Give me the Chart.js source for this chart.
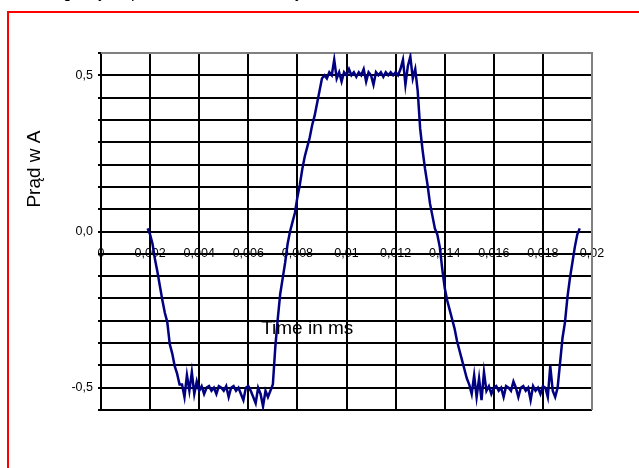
<!DOCTYPE html>
<html>
<head>
<meta charset="utf-8">
<script src="https://cdn.jsdelivr.net/npm/chart.js@4/dist/chart.umd.min.js"></script>
<style>
  html, body { margin:0; padding:0; width:639px; height:468px; overflow:hidden; background:#fff; }
  #wrap { position:relative; width:639px; height:468px; }
  #frame { position:absolute; left:7px; top:11px; width:700px; height:520px; border:2px solid #ff0000; pointer-events:none; }
  .cut { position:absolute; top:-15px; font:16px "Liberation Sans", Arial, sans-serif; line-height:16px; color:#000; }
</style>
</head>
<body>
<div id="wrap">
  <span class="cut" style="left:63px">g,</span>
  <span class="cut" style="left:99px">j</span>
  <span class="cut" style="left:131px">p</span>
  <span class="cut" style="left:295px">y</span>
  <canvas id="c" width="639" height="468"></canvas>
  <div id="frame"></div>
</div>
<script>
// oscilloscope samples: first sample time and sample interval (s)
const sampleStart = 0.0019;
const sampleStep = 0.0001;

// current in A, one value per sample
const fallA = [0.01, -0.01, -0.04, -0.09, -0.13, -0.175, -0.22, -0.26, -0.29, -0.36, -0.39, -0.43, -0.455, -0.49];
const lowA = [-0.49, -0.53, -0.46, -0.51, -0.45, -0.52, -0.48, -0.51, -0.495, -0.52, -0.50, -0.495, -0.51, -0.50,
  -0.52, -0.495, -0.50, -0.51, -0.495, -0.53, -0.50, -0.495, -0.51, -0.50, -0.52, -0.54, -0.50, -0.495, -0.51, -0.53,
  -0.55, -0.50, -0.52, -0.56, -0.51, -0.53, -0.51];
const riseA = [-0.49, -0.37, -0.28, -0.20, -0.15, -0.10, -0.04, 0.0, 0.03, 0.06, 0.11, 0.15, 0.20, 0.24, 0.27,
  0.30, 0.34, 0.37, 0.41, 0.45, 0.49];
const highA = [0.50, 0.49, 0.51, 0.50, 0.55, 0.49, 0.51, 0.48, 0.51, 0.50, 0.52, 0.50, 0.51, 0.495, 0.51, 0.50,
  0.52, 0.48, 0.51, 0.50, 0.47, 0.51, 0.50, 0.51, 0.495, 0.51, 0.50, 0.51, 0.50, 0.51, 0.50, 0.52, 0.55, 0.47,
  0.53, 0.56, 0.49, 0.52];
const fallB = [0.45, 0.33, 0.26, 0.20, 0.15, 0.09, 0.05, 0.01, -0.01, -0.05, -0.12, -0.18, -0.22, -0.25, -0.28,
  -0.31, -0.35, -0.38, -0.41, -0.44, -0.47, -0.49];
const lowB = [-0.52, -0.46, -0.53, -0.47, -0.54, -0.45, -0.51, -0.495, -0.52, -0.50, -0.495, -0.51, -0.50, -0.53,
  -0.495, -0.50, -0.51, -0.48, -0.50, -0.53, -0.50, -0.495, -0.51, -0.50, -0.54, -0.495, -0.51, -0.50, -0.52, -0.495,
  -0.50, -0.53, -0.43, -0.51, -0.53, -0.50];
const riseB = [-0.42, -0.34, -0.29, -0.21, -0.15, -0.10, -0.05, -0.01, 0.01];

// axis ticks
const xTickStep = 0.002;
const yGridLines = [-8, -7, -6, -5, -4, -3, -2, -1, 0, 1, 2, 3, 4, 5, 6, 7, 8].map(k => k / 14);
const yLabelValues = [-0.5, 0, 0.5];
const yLabelText = ['-0,5', '0,0', '0,5'];

const current = [...fallA, ...lowA, ...riseA, ...highA, ...fallB, ...lowB, ...riseB];
const points = current.map((v, k) => ({ x: sampleStart + k * sampleStep, y: v }));

const FONT = '"Liberation Sans", Arial, sans-serif';

const extras = {
  id: 'extras',
  beforeDatasetsDraw(chart){
    const { ctx, chartArea: a } = chart;
    ctx.save();
    ctx.strokeStyle = '#808080';
    ctx.lineWidth = 2;
    ctx.beginPath();
    ctx.moveTo(a.left, a.top); ctx.lineTo(a.right, a.top); ctx.lineTo(a.right, a.bottom);
    ctx.stroke();
    ctx.restore();
  },
  afterDraw(chart){
    const { ctx, scales: { x, y } } = chart;
    ctx.save();
    ctx.fillStyle = '#000';
    ctx.font = '19px ' + FONT;
    ctx.textAlign = 'center';
    ctx.textBaseline = 'middle';
    ctx.fillText('Time in ms', x.getPixelForValue(0.0084), y.getPixelForValue(-0.31));
    ctx.translate(35, y.getPixelForValue(0.2));
    ctx.rotate(-Math.PI / 2);
    ctx.fillText('Prąd w A', 0, 0);
    ctx.restore();
  }
};

new Chart(document.getElementById('c'), {
  type: 'line',
  data: {
    datasets: [{
      data: points,
      borderColor: '#000080',
      borderWidth: 2.5,
      pointRadius: 0,
      tension: 0,
      fill: false,
    }]
  },
  options: {
    responsive: false,
    animation: false,
    layout: { padding: { left: 0, top: 53, right: 47, bottom: 58 } },
    plugins: { legend: { display: false }, tooltip: { enabled: false } },
    scales: {
      x: {
        type: 'linear',
        position: { y: 0 },
        min: 0, max: 0.02,
        grid: { color: '#000', lineWidth: 2, drawTicks: false },
        border: { color: '#000', width: 2 },
        ticks: {
          stepSize: xTickStep, padding: 15, maxRotation: 0, autoSkip: false,
          color: '#000', font: { size: 12.5, family: FONT },
          callback: v => v === 0 ? '0' : String(+v.toFixed(3)).replace('.', ',')
        }
      },
      y: {
        type: 'linear',
        position: 'left',
        min: yGridLines[0], max: yGridLines[yGridLines.length - 1],
        afterBuildTicks: s => { s.ticks = yGridLines.map(v => ({ value: v })); },
        afterFit: s => { s.width = 101; },
        grid: { color: '#000', lineWidth: 2, tickLength: 3 },
        border: { color: '#000', width: 2 },
        ticks: {
          padding: 5, color: '#000', font: { size: 12.5, family: FONT },
          callback: v => {
            const i = yLabelValues.findIndex(l => Math.abs(l - v) < 1e-9);
            return i < 0 ? '' : yLabelText[i];
          }
        }
      }
    }
  },
  plugins: [extras]
});
</script>
</body>
</html>
